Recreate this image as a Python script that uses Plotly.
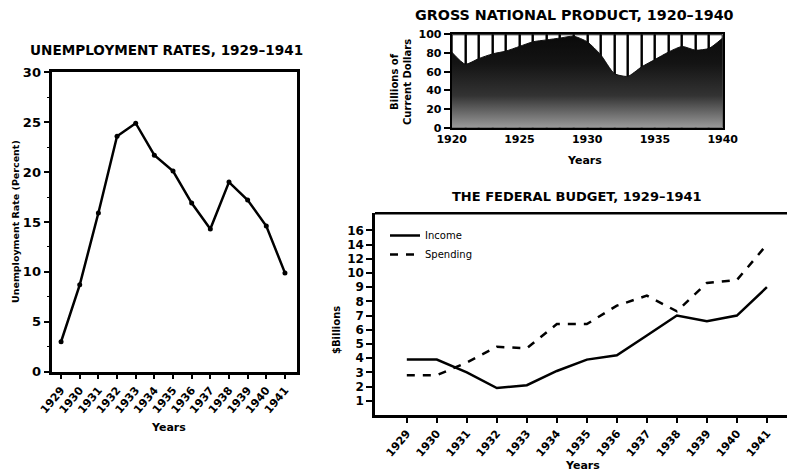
import plotly.graph_objects as go

# ---------------- data ----------------
unemp_years = list(range(1929, 1942))
unemp_rate = [3.0, 8.7, 15.9, 23.6, 24.9, 21.7, 20.1, 16.9, 14.3, 19.0, 17.2, 14.6, 9.9]

gnp_years = list(range(1920, 1941))
gnp_values = [81, 68, 74, 79, 82, 87, 92, 94, 96, 98, 92, 78, 58, 55, 65, 73, 81, 87, 83, 85, 96]

budget_years = list(range(1929, 1942))
income = [3.9, 3.9, 3.0, 1.9, 2.1, 3.1, 3.9, 4.2, 5.6, 7.0, 6.6, 7.0, 9.0]
spending = [2.8, 2.8, 3.7, 4.8, 4.7, 6.4, 6.4, 7.7, 8.4, 7.3, 9.3, 9.5, 14.0]
budget_ticks = [1, 2, 3, 4, 5, 6, 7, 8, 9, 10, 12, 14, 16]

W, H = 787, 473
FONT = "DejaVu Sans"


def px(x):
    return x / W


def py(y):
    return 1 - y / H


def fb(v):
    # broken budget scale: linear to 10, then half-spacing per unit
    return v if v <= 10 else 10 + (v - 10) / 2


fig = go.Figure()

# ---- Unemployment ----
fig.add_trace(go.Scatter(
    x=unemp_years, y=unemp_rate, mode="lines+markers",
    line=dict(color="black", width=2.5), marker=dict(color="black", size=5),
    xaxis="x", yaxis="y", showlegend=False))

# ---- GNP ----
fig.add_trace(go.Scatter(
    x=gnp_years, y=gnp_values, mode="lines", line=dict(color="#111", width=1, shape="spline", smoothing=0.6),
    fill="tozeroy",
    fillgradient=dict(type="vertical", colorscale=[[0, "#9a9a9a"], [0.35, "#333"], [0.7, "#141414"], [1, "#0a0a0a"]]),
    xaxis="x2", yaxis="y2", showlegend=False))
fig.add_trace(go.Bar(
    x=[y + 0.5 for y in gnp_years[:-1]], y=[100] * (len(gnp_years) - 1), width=1,
    marker=dict(color="rgba(0,0,0,0)", line=dict(color="black", width=2)),
    xaxis="x2", yaxis="y2", showlegend=False, hoverinfo="skip"))

# ---- Federal budget ----
fig.add_trace(go.Scatter(
    x=budget_years, y=[fb(v) for v in income], mode="lines", name="Income",
    line=dict(color="black", width=2.5), xaxis="x3", yaxis="y3"))
fig.add_trace(go.Scatter(
    x=budget_years, y=[fb(v) for v in spending], mode="lines", name="Spending",
    line=dict(color="black", width=2.5, dash="8px,8px"), xaxis="x3", yaxis="y3"))

common = dict(showgrid=False, zeroline=False, showline=True, linecolor="black",
              ticks="outside", tickcolor="black", automargin=False)


def tf(size):
    return dict(family=FONT, size=size, color="black", weight="bold")


fig.update_layout(
    width=W, height=H, margin=dict(l=0, r=0, t=0, b=0, autoexpand=False),
    paper_bgcolor="white", plot_bgcolor="white", bargap=0,
    font=dict(family=FONT, color="black"),
    xaxis=dict(domain=[px(52.3), px(296.7)], anchor="y", range=[1928.53, 1941.63],
               tickvals=unemp_years, tickangle=-50, mirror=True, linewidth=2.5,
               ticklen=5, tickwidth=1.5, tickfont=tf(11), **common),
    yaxis=dict(domain=[py(371.7), py(72.3)], anchor="x", range=[0, 30], dtick=5,
               mirror=True, linewidth=2.5, ticklen=6, tickwidth=1.5,
               minor=dict(dtick=2.5, ticks="outside", ticklen=3, tickcolor="black", tickwidth=1),
               tickfont=tf(13), **common),
    xaxis2=dict(domain=[px(451.7), px(722.7)], anchor="y2", range=[1920, 1940], dtick=5,
                mirror=True, linewidth=2, ticklen=0, tickfont=tf(11), **common),
    yaxis2=dict(domain=[py(127.7), py(34.3)], anchor="x2", range=[0, 100], dtick=20,
                mirror=True, linewidth=2, ticklen=6, tickwidth=1.5,
                tickfont=tf(11), **common),
    xaxis3=dict(domain=[px(375), 1.0], anchor="y3", range=[1927.94, 1941.67],
                tickvals=budget_years, tickangle=-50, mirror=False, linewidth=2.5,
                ticklen=5, tickwidth=1.5, tickfont=tf(11), **common),
    yaxis3=dict(domain=[py(415), py(213.3)], anchor="x3", range=[0, 14.2],
                tickvals=[fb(v) for v in budget_ticks], ticktext=[str(v) for v in budget_ticks],
                linewidth=2.5, ticklen=6, tickwidth=1.5, mirror=False,
                tickfont=tf(12), **common),
    legend=dict(x=px(385), y=py(221), xanchor="left", yanchor="top", bgcolor="rgba(0,0,0,0)",
                font=dict(family=FONT, size=10, color="black"), tracegroupgap=0, itemwidth=30),
)

# top frame line of the budget panel
fig.add_shape(type="line", xref="x3 domain", yref="y3 domain", x0=0, x1=1, y0=1, y1=1,
              line=dict(color="black", width=2.5))

ann = [
    dict(text="UNEMPLOYMENT RATES, 1929–1941", x=px(166), y=py(50), size=13.6, bold=True),
    dict(text="GROSS NATIONAL PRODUCT, 1920–1940", x=px(574), y=py(15), size=14.3, bold=True),
    dict(text="THE FEDERAL BUDGET, 1929–1941", x=px(577), y=py(196), size=13, bold=True),
    dict(text="Years", x=px(168), y=py(427), size=11, bold=True),
    dict(text="Years", x=px(584), y=py(160), size=11, bold=True),
    dict(text="Years", x=px(582), y=py(465), size=11, bold=True),
    dict(text="Unemployment Rate (Percent)", x=px(15), y=py(222), size=9.5, bold=True, angle=-90),
    dict(text="Billions of<br>Current Dollars", x=px(401), y=py(82), size=10, bold=True, angle=-90),
    dict(text="$Billions", x=px(336), y=py(330), size=10, bold=True, angle=-90),
]
for a in ann:
    fig.add_annotation(text=a["text"], x=a["x"], y=a["y"], xref="paper", yref="paper",
                       showarrow=False, textangle=a.get("angle", 0),
                       font=dict(family=FONT, size=a["size"], color="black",
                                 weight="bold" if a["bold"] else "normal"),
                       xanchor="center", yanchor="middle")

fig.write_html("out.html", config={"displayModeBar": False},
               post_script="document.body.style.margin='0';"
                           "document.documentElement.style.overflow='hidden';")
